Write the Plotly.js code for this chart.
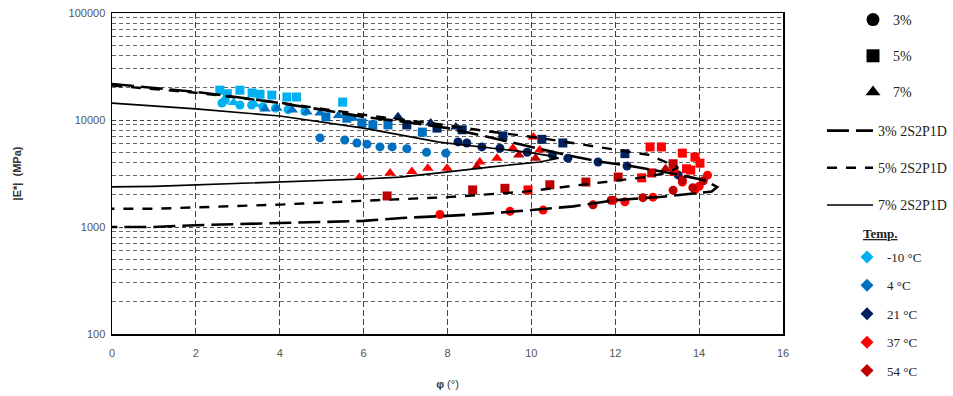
<!DOCTYPE html>
<html>
<head>
<meta charset="utf-8">
<script src="https://cdn.plot.ly/plotly-3.0.1.min.js"></script>
<style>html,body{margin:0;padding:0;background:#fff;}#chart{width:953px;height:396px;}</style>
</head>
<body>
<div id="chart"></div>
<script>
// ---------- data (phase angle φ in °, |E*| in MPa) ----------
const tempLabels = ['-10 °C', '4 °C', '21 °C', '37 °C', '54 °C'];
const binderLabels = ['3%', '5%', '7%'];
const modelLabels = ['3% 2S2P1D', '5% 2S2P1D', '7% 2S2P1D'];

// -10 °C
const m10_3_phi = [2.62, 2.7, 3.05, 3.33, 3.6, 3.9, 4.2, 4.6];
const m10_3_E   = [14400, 15300, 13800, 13800, 13300, 12900, 12500, 12000];
const m10_5_phi = [2.57, 2.75, 3.05, 3.34, 3.53, 3.81, 4.17, 4.4, 5.5];
const m10_5_E   = [19000, 17600, 19000, 17900, 17400, 17100, 16400, 16400, 14700];
const m10_7_phi = [2.9, 3.4];
const m10_7_E   = [14600, 14000];
// 4 °C
const t4_3_phi = [4.96, 5.55, 5.84, 6.08, 6.39, 6.68, 7.03, 7.5, 7.96];
const t4_3_E   = [6800, 6500, 6100, 5950, 5600, 5600, 5400, 5000, 4900];
const t4_5_phi = [5.1, 5.6, 5.96, 6.22, 6.58, 7.4];
const t4_5_E   = [10700, 10400, 9400, 9000, 9000, 7700];
const t4_7_phi = [3.65, 3.93, 4.3, 4.65, 4.96, 5.4, 5.75];
const t4_7_E   = [12700, 12900, 12400, 11900, 11600, 11000, 10400];
// 21 °C
const t21_3_phi = [8.25, 8.46, 8.82, 9.25, 9.9, 10.5, 10.87, 11.59, 12.28, 13.5];
const t21_3_E   = [6240, 6100, 5600, 5450, 5000, 4700, 4400, 4050, 3720, 3070];
const t21_5_phi = [7.03, 7.75, 8.35, 9.32, 10.25, 10.75, 12.23];
const t21_5_E   = [9000, 8400, 8100, 7100, 6600, 6100, 4850];
const t21_7_phi = [6.82, 7.6, 8.2];
const t21_7_E   = [10700, 9400, 8600];
// 37 °C
const t37_3_phi = [7.82, 9.49, 10.28, 11.95, 12.23, 12.9, 13.6, 13.9, 14.0, 14.2];
const t37_3_E   = [1310, 1400, 1440, 1780, 1720, 1900, 2630, 2230, 2400, 3050];
const t37_5_phi = [9.92, 12.63, 12.83, 13.1, 13.6, 13.9, 14.02, 13.7, 13.4, 13.8];
const t37_5_E   = [2220, 2880, 5600, 5600, 4900, 4500, 3950, 3500, 3300, 3400];
const t37_7_phi = [5.9, 6.63, 7.15, 7.53, 7.99, 8.77, 9.18, 9.56, 10.05, 10.2];
const t37_7_E   = [2900, 3200, 3300, 3550, 3550, 4050, 4400, 5450, 6950, 5250];
// 54 °C
const t54_3_phi = [11.47, 11.9, 12.66, 13.38, 13.6, 13.85, 14.1];
const t54_3_E   = [1610, 1780, 1880, 2200, 2750, 2330, 2700];
const t54_5_phi = [6.56, 8.6, 9.37, 10.44, 11.3, 12.07, 12.87, 13.38];
const t54_5_E   = [1950, 2220, 2300, 2480, 2630, 2930, 3200, 3900];
const t54_7_phi = [8.7, 9.7, 10.1, 13.2];
const t54_7_E   = [3650, 4700, 4400, 3500];

// 2S2P1D model curves (Cole-Cole plane)
const model3_phi = [0, 1, 2, 3, 4, 5, 6, 7, 8, 9, 10, 10.85, 11.6, 12.3, 13.4, 14.1, 14.43, 14.3, 13.95, 13, 12, 11, 10, 9, 8, 7, 6, 4, 2, 1, 0];
const model3_E   = [21700, 20000, 18300, 16300, 14400, 12500, 10700, 9600, 8400, 6900, 5600, 4700, 4100, 3750, 3150, 2750, 2370, 2150, 2070, 1900, 1780, 1560, 1440, 1340, 1270, 1220, 1140, 1090, 1040, 1000, 1000];
const model5_phi = [0, 2, 4, 6, 8, 9, 10.2, 11.6, 12.8, 13.5, 13.2, 12.76, 11.2, 9.8, 8, 6.9, 6, 4, 2, 1, 0];
const model5_E   = [21000, 18000, 14500, 11200, 8900, 7800, 6800, 5560, 4720, 3600, 3200, 2940, 2480, 2130, 1900, 1830, 1760, 1620, 1520, 1480, 1480];
const model7_phi = [0, 2, 4, 6, 7.8, 8.85, 9.9, 10.4, 10.65, 10.2, 9, 7.8, 6.87, 6, 4, 2, 1, 0];
const model7_E   = [14400, 12700, 10900, 8400, 6200, 5600, 5000, 4650, 4400, 4050, 3630, 3200, 2920, 2810, 2630, 2490, 2400, 2370];

const yTickVals = [100, 1000, 10000, 100000];
const yTickText = ['100', '1000', '10000', '100000'];

// ---------- styles ----------
const tempColors = ['#00b0f0', '#0070c0', '#002060', '#ff0000', '#c00000'];
const binderSymbols = ['circle', 'square', 'triangle-up'];
const modelDash = ['22px,7px', '10px,9px', 'solid'];
const modelWidth = [2.6, 2.4, 1.7];

const groups = [
  [[m10_3_phi, m10_3_E], [m10_5_phi, m10_5_E], [m10_7_phi, m10_7_E]],
  [[t4_3_phi, t4_3_E], [t4_5_phi, t4_5_E], [t4_7_phi, t4_7_E]],
  [[t21_3_phi, t21_3_E], [t21_5_phi, t21_5_E], [t21_7_phi, t21_7_E]],
  [[t37_3_phi, t37_3_E], [t37_5_phi, t37_5_E], [t37_7_phi, t37_7_E]],
  [[t54_3_phi, t54_3_E], [t54_5_phi, t54_5_E], [t54_7_phi, t54_7_E]]
];
const models = [[model3_phi, model3_E], [model5_phi, model5_E], [model7_phi, model7_E]];

const traces = [];
groups.forEach((g, ti) => {
  g.forEach((s, bi) => {
    traces.push({
      type: 'scatter', mode: 'markers', x: s[0], y: s[1],
      name: tempLabels[ti] + ' ' + binderLabels[bi], showlegend: false,
      marker: {symbol: binderSymbols[bi], color: tempColors[ti], size: bi === 2 ? 10 : 9}
    });
  });
});
models.forEach((m, i) => {
  traces.push({
    type: 'scatter', mode: 'lines', x: m[0], y: m[1], name: modelLabels[i],
    line: {color: '#000', width: modelWidth[i], dash: modelDash[i]},
    legend: 'legend2', legendgroup: 'm' + i
  });
});
// legend-only entries
binderLabels.forEach((b, i) => {
  traces.push({
    type: 'scatter', mode: 'markers', x: [null], y: [null], name: b,
    marker: {symbol: binderSymbols[i], color: '#000', size: 13},
    legend: 'legend', legendgroup: 'b' + i
  });
});
tempLabels.forEach((t, i) => {
  traces.push({
    type: 'scatter', mode: 'markers', x: [null], y: [null], name: t,
    marker: {symbol: 'diamond', color: tempColors[i], size: 10},
    legend: 'legend3', legendgroup: 't' + i
  });
});

const px2x = p => (p - 112) / 671;
const py2y = p => (334 - p) / 321;
const serif = 'Liberation Serif, Times New Roman, serif';
const legFont = {family: serif, size: 14, color: '#222'};

const layout = {
  width: 953, height: 396,
  margin: {l: 112, r: 170, t: 13, b: 62, autoexpand: false},
  paper_bgcolor: '#fff', plot_bgcolor: '#fff',
  font: {family: 'Liberation Sans, Arial, sans-serif', size: 11, color: '#444'},
  xaxis: {
    range: [0, 16], dtick: 2, tick0: 0, showline: true, linecolor: '#000', linewidth: 1.5, mirror: true,
    showgrid: true, gridcolor: '#444', gridwidth: 1, griddash: '6px,3px', zeroline: false,
    ticks: '', ticklabelstandoff: 8,
    tickfont: {family: 'Liberation Sans, Arial, sans-serif', size: 11, color: '#555'},
    title: {text: '<b>φ</b> (°)', font: {size: 11, color: '#333'}, standoff: 22}
  },
  yaxis: {
    type: 'log', range: [2, 5], tickvals: yTickVals, ticktext: yTickText,
    showline: true, linecolor: '#000', linewidth: 1.5, mirror: true,
    showgrid: true, gridcolor: '#444', gridwidth: 1, griddash: '4px,3px', zeroline: false,
    ticks: '', ticklabelstandoff: 3,
    tickfont: {family: 'Liberation Sans, Arial, sans-serif', size: 11, color: '#555'},
    minor: {dtick: 'D1', showgrid: true, gridcolor: '#666', gridwidth: 1, griddash: '4px,3px', ticks: ''},
    title: {text: '<b>|E*|  (MPa)</b>', font: {size: 11, color: '#333'}, standoff: 44}
  },
  legend: {
    x: px2x(853), xanchor: 'left', y: py2y(4), yanchor: 'top',
    font: legFont, bgcolor: 'rgba(0,0,0,0)', borderwidth: 0,
    traceorder: 'grouped', tracegroupgap: 15, itemwidth: 30
  },
  legend2: {
    x: px2x(822), xanchor: 'left', y: py2y(115), yanchor: 'top',
    font: legFont, bgcolor: 'rgba(0,0,0,0)', borderwidth: 0,
    traceorder: 'grouped', tracegroupgap: 16, itemwidth: 46
  },
  legend3: {
    x: px2x(847), xanchor: 'left', y: py2y(242), yanchor: 'top',
    font: {family: serif, size: 13, color: '#222'},
    bgcolor: 'rgba(0,0,0,0)', borderwidth: 0,
    traceorder: 'grouped', tracegroupgap: 8.5, itemwidth: 30
  },
  annotations: [{
    xref: 'paper', yref: 'paper', x: px2x(880), y: py2y(233), xanchor: 'center', yanchor: 'middle',
    text: '<b><u>Temp.</u></b>', showarrow: false, font: {family: serif, size: 13, color: '#222'}
  }],
  showlegend: true
};

Plotly.newPlot('chart', traces, layout, {displayModeBar: false, staticPlot: true});
</script>
</body>
</html>
